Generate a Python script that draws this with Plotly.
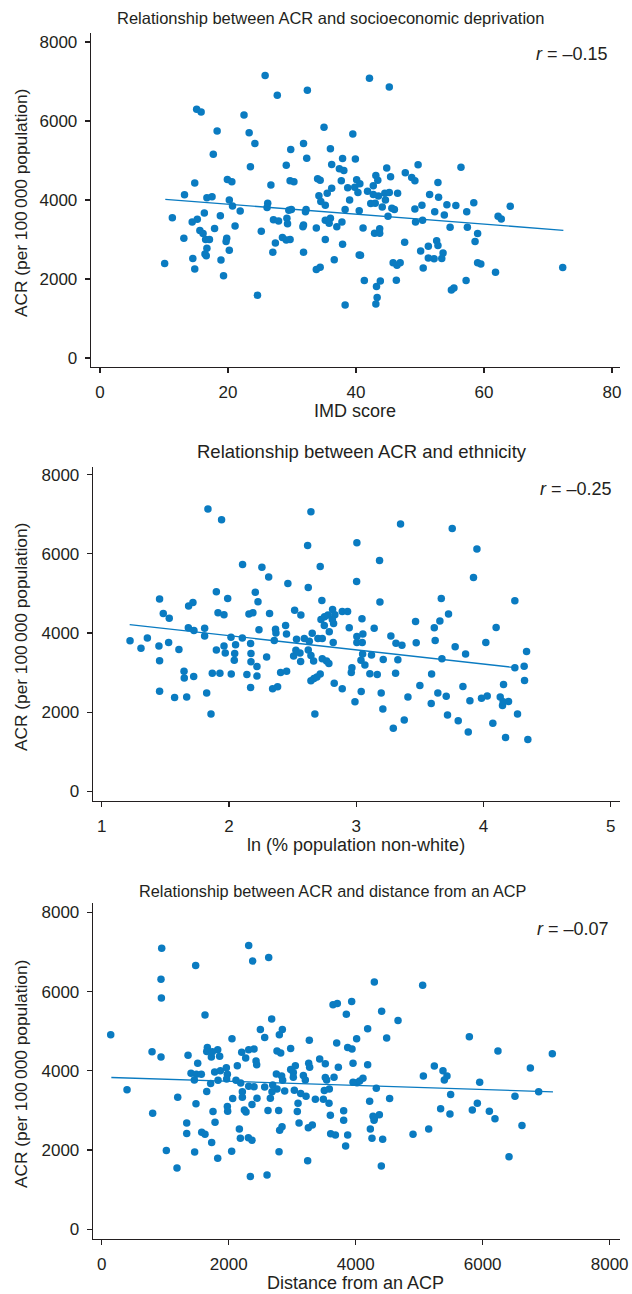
import plotly.graph_objects as go

# ---------------- Panel 1: IMD score vs ACR ----------------
imd_score = [
    25.8, 27.7, 32.4, 15.1, 15.8, 22.5, 18.3, 23.3, 24.2, 17.7,
    31.8, 29.8, 35.0, 39.5, 32.3, 36.0, 37.9, 39.9, 36.2, 37.4,
    38.1, 29.1, 23.5, 14.8, 19.9, 20.6, 26.7, 29.7, 30.3, 34.0,
    34.4, 37.7, 40.1, 38.7, 39.8, 40.3, 36.2, 35.5, 34.2, 13.2,
    16.7, 17.5, 20.2, 20.7, 21.9, 26.2, 26.1, 29.5, 29.9, 32.2,
    32.1, 34.5, 35.2, 39.0, 38.3, 40.5, 11.3, 16.3, 18.8, 15.2,
    14.4, 27.1, 27.9, 29.2, 29.3, 31.8, 31.7, 35.2, 36.0, 35.8,
    37.8, 37.0, 21.1, 17.9, 15.6, 16.1, 16.5, 17.1, 13.1, 19.8,
    19.7, 25.2, 33.8, 28.5, 29.1, 29.7, 27.4, 35.2, 37.9, 16.7,
    16.4, 16.6, 20.2, 27.0, 31.8, 40.5, 14.5, 18.9, 36.6, 10.1,
    14.8, 19.3, 33.8, 34.4, 24.6, 38.3,
    42.1, 45.2, 40.6, 44.8, 45.4, 43.1, 43.4, 42.7, 41.8, 42.7,
    43.5, 44.5, 45.2, 46.5, 44.6, 42.3, 43.0, 44.1, 45.6, 46.0,
    45.0, 47.7, 48.7, 49.2, 49.7, 52.8, 51.5, 52.9, 50.3, 49.2,
    49.3, 50.4, 52.3, 53.8, 54.2, 55.6, 56.4, 58.4, 57.3, 54.7,
    57.4, 59.0, 58.6, 62.2, 62.7, 64.1, 41.1, 42.9, 43.7, 43.7,
    47.6, 40.7, 50.1, 51.3, 52.6, 52.8, 53.6, 53.4, 52.2, 51.3,
    50.5, 45.8, 46.4, 46.9, 59.0, 59.5, 61.8, 72.3, 41.3, 43.8,
    43.2, 43.3, 43.1, 46.3, 54.9, 55.3, 57.2,
]
acr_imd = [
    7150, 6650, 6780, 6300, 6230, 6150, 5750, 5700, 5430, 5160,
    5430, 5280, 5840, 5670, 5060, 5300, 5050, 5040, 4900, 4790,
    4750, 4880, 4840, 4430, 4520, 4460, 4380, 4490, 4460, 4540,
    4500, 4490, 4510, 4310, 4320, 4190, 4300, 4170, 4110, 4130,
    4060, 4080, 4000, 3850, 3720, 3920, 3810, 3740, 3760, 3760,
    3700, 3960, 3870, 4000, 3760, 3730, 3550, 3670, 3600, 3510,
    3440, 3500, 3470, 3540, 3400, 3370, 3320, 3490, 3540, 3410,
    3440, 3320, 3340, 3280, 3230, 3150, 3000, 3000, 3030, 3030,
    2950, 3210, 3290, 3050, 2990, 3000, 2910, 3000, 2880, 2780,
    2630, 2590, 2730, 2680, 2680, 2610, 2520, 2480, 2490, 2390,
    2250, 2080, 2240, 2300, 1590, 1340,
    7080, 6860, 4410, 4810, 4590, 4620, 4500, 4360, 4220, 4140,
    4100, 4170, 4190, 4170, 4000, 3910, 3920, 3820, 3790, 3760,
    3590, 4690, 4570, 4490, 4890, 4440, 4140, 4070, 3870, 3770,
    3440, 3490, 3700, 3620, 3880, 3860, 4830, 3930, 3700, 3310,
    3310, 3150, 2950, 3590, 3520, 3840, 3290, 3160, 3160, 3270,
    2930, 2600, 2710, 2830, 2970, 2850, 2660, 2520, 2510, 2530,
    2280, 2410, 2350, 2410, 2410, 2380, 2170, 2290, 1960, 1950,
    1810, 1530, 1370, 1970, 1720, 1770, 1960,
]
trend_imd_x = [10.2, 72.4]
trend_imd_y = [4016, 3232]

# ---------------- Panel 2: ln(% non-white) vs ACR ----------------
ln_nonwhite = [
    1.835, 1.942, 2.644, 2.618, 3.005, 2.107, 2.259, 2.312, 2.717, 2.463,
    2.623, 3.003, 1.901, 2.207, 1.990, 2.228, 2.730, 1.455, 1.683, 1.717,
    1.484, 1.531, 1.914, 1.961, 2.157, 2.188, 2.319, 2.516, 2.565, 2.723,
    2.751, 2.778, 2.814, 2.832, 2.890, 2.932, 2.822, 2.812, 2.749, 2.945,
    2.788, 1.681, 1.725, 1.809, 1.809, 2.016, 2.105, 2.236, 2.366, 2.369,
    2.445, 2.452, 2.356, 2.531, 2.592, 2.631, 2.654, 2.699, 2.733, 2.819,
    3.005, 3.005, 1.223, 1.309, 1.359, 1.450, 1.526, 1.607, 1.455, 1.901,
    1.961, 1.971, 2.052, 2.045, 2.042, 2.170, 2.173, 2.173, 2.220, 2.296,
    2.508, 2.526, 2.558, 2.563, 2.623, 2.644, 2.665, 2.733, 2.767, 2.785,
    1.647, 1.649, 1.723, 1.869, 1.929, 2.018, 2.141, 2.220, 2.170, 2.343,
    2.382, 2.406, 2.453, 2.644, 2.668, 2.691, 2.717, 2.827, 2.890, 2.966,
    2.961, 2.990, 1.455, 1.573, 1.668, 1.825, 1.859, 2.675,
    3.348, 3.754, 3.948, 3.183, 3.921, 3.186, 3.668, 4.246, 3.045, 3.725,
    3.657, 3.466, 3.613, 3.141, 4.099, 3.052, 3.272, 3.312, 3.359, 3.471,
    3.620, 4.018, 3.777, 3.859, 3.050, 3.120, 3.212, 3.327, 3.673, 4.338,
    4.319, 4.246, 3.068, 3.107, 3.165, 3.309, 3.592, 4.322, 3.500, 3.838,
    4.157, 3.039, 3.196, 3.641, 3.406, 3.707, 3.893, 3.984, 4.029, 4.131,
    4.196, 4.149, 4.154, 3.589, 3.209, 3.717, 4.267, 3.377, 3.291, 3.801,
    3.880, 4.073, 4.173, 4.348, 3.047, 3.037,
]
acr_eth = [
    7130, 6860, 7060, 6210, 6280, 5730, 5660, 5410, 5680, 5250,
    5150, 5300, 5040, 5030, 4870, 4790, 4820, 4860, 4680, 4770,
    4490, 4370, 4510, 4460, 4480, 4510, 4490, 4570, 4450, 4340,
    4410, 4450, 4590, 4460, 4540, 4540, 4240, 4340, 4190, 4130,
    4030, 4130, 4060, 4120, 3920, 3890, 3870, 4080, 4090, 4000,
    4190, 3970, 3810, 3840, 3860, 3790, 3990, 3860, 3860, 3760,
    3910, 3760, 3800, 3610, 3870, 3670, 3760, 3580, 3300, 3570,
    3670, 3490, 3700, 3480, 3310, 3730, 3480, 3270, 3150, 3390,
    3420, 3560, 3490, 3280, 3570, 3430, 3290, 3350, 3290, 3230,
    3030, 2860, 2900, 2980, 2980, 2960, 2950, 2910, 2620, 2590,
    2640, 3000, 3030, 2790, 2850, 2890, 2960, 2730, 2590, 3120,
    3000, 2260, 2530, 2370, 2380, 2480, 1950, 1950,
    6750, 6640, 6120, 5830, 5400, 4780, 4870, 4810, 4360, 4480,
    4300, 4290, 4130, 4120, 4140, 3970, 3920, 3740, 3690, 3750,
    3810, 3760, 3650, 3470, 3470, 3440, 3330, 3320, 3350, 3530,
    3160, 3120, 3190, 2970, 2950, 2980, 2960, 2800, 2670, 2650,
    2700, 2520, 2480, 2480, 2380, 2400, 2290, 2350, 2410, 2380,
    2270, 2170, 2260, 2220, 2080, 1930, 1950, 1800, 1590, 1780,
    1500, 1720, 1360, 1310, 3760, 3310,
]
trend_eth_x = [1.22, 4.25]
trend_eth_y = [4210, 3124]

# ---------------- Panel 3: distance from an ACP vs ACR ----------------
distance_acp = [
    945, 934, 940, 1480, 2315, 2378, 2630, 142, 1627, 2677,
    2499, 2845, 2798, 2567, 2052, 3270, 793, 934, 1360, 1512,
    1664, 1654, 1727, 1827, 1858, 1743, 2205, 2268, 2315, 2399,
    2431, 2441, 2136, 2761, 2819, 2976, 3433, 3522, 3260, 3275,
    3050, 2976, 3018, 3018, 3176, 3207, 2834, 2850, 2751, 3701,
    3727, 3659, 3522, 3543, 3643, 3711, 3853, 3937, 3874, 3942,
    3958, 4015, 4020, 3958, 1407, 1459, 1491, 1569, 1779, 1869,
    1963, 1979, 1968, 1832, 1716, 2115, 2189, 2315, 2399, 2567,
    2693, 2761, 2882, 2682, 2215, 2215, 2656, 2446, 2367, 3034,
    3134, 3218, 3365, 3491, 3580, 3506, 3585, 3092, 399, 1197,
    1654, 1485, 803, 1339, 1339, 1575, 1627, 1785, 1753, 1979,
    1984, 2063, 2247, 2273, 2619, 2787, 3081, 3108, 3254, 3317,
    3601, 3811, 3811, 3606, 3680, 3874, 3842, 2168, 2184, 2310,
    2367, 2803, 2840, 1732, 1464, 1018, 1186, 1827, 2047, 2793,
    3244, 2341, 2604,
    4294, 5055, 4409, 4667, 4189, 4488, 5790, 6241, 7097, 4189,
    5066, 5239, 5375, 5438, 5396, 6751, 5953, 4063, 4115, 4325,
    4535, 4220, 5496, 6509, 6882, 5916, 5338, 5485, 5837, 6105,
    6194, 4273, 4373, 4289, 4294, 4231, 4257, 4425, 4903, 5150,
    6619, 6415, 4404,
]
acr_dist = [
    7090, 6310, 5840, 6660, 7160, 6770, 6860, 4910, 5410, 5310,
    5040, 5040, 4910, 4840, 4810, 4770, 4480, 4350, 4390, 4190,
    4590, 4490, 4350, 4530, 4370, 4480, 4470, 4320, 4530, 4550,
    4250, 4150, 4130, 4500, 4450, 4560, 4300, 4180, 4190, 4090,
    4130, 4030, 3960, 3840, 3880, 3770, 3870, 3760, 3920, 4700,
    4090, 3840, 3830, 3770, 5670, 5700, 5430, 5750, 4590, 4550,
    4190, 4810, 3700, 3710, 3940, 3770, 3910, 3910, 3970, 4000,
    4080, 3910, 3790, 3760, 3680, 3760, 3690, 3610, 3600, 3590,
    3640, 3540, 3490, 3470, 3470, 3330, 3310, 3310, 3150, 3510,
    3430, 3360, 3280, 3280, 3180, 3500, 3540, 3180, 3520, 3330,
    3480, 3170, 2930, 2680, 2420, 2450, 2400, 2700, 2970, 3100,
    2980, 3300, 3010, 2960, 3000, 3000, 2970, 2680, 2560, 2630,
    2880, 2990, 2750, 2410, 2380, 2380, 2100, 2530, 2300, 2310,
    2250, 2500, 2590, 2190, 1950, 1990, 1550, 1790, 1970, 1960,
    1730, 1330, 1370,
    6240, 6160, 5500, 5270, 5060, 4830, 4860, 4500, 4430, 4150,
    3870, 4120, 4000, 3870, 3770, 4070, 3710, 3740, 3810, 3560,
    3300, 3230, 3400, 3360, 3470, 3180, 3040, 2910, 3010, 2980,
    2790, 2850, 2890, 2750, 2800, 2530, 2300, 2270, 2400, 2530,
    2620, 1830, 1600,
]
trend_dist_x = [152, 7107]
trend_dist_y = [3831, 3469]

assert len(imd_score) == len(acr_imd)
assert len(ln_nonwhite) == len(acr_eth)
assert len(distance_acp) == len(acr_dist)

panel_titles = [
    "Relationship between ACR and socioeconomic deprivation",
    "Relationship between ACR and ethnicity",
    "Relationship between ACR and distance from an ACP",
]
x_titles = ["IMD score", "ln (% population non-white)", "Distance from an ACP"]
r_labels = ["\u20130.15", "\u20130.25", "\u20130.07"]
y_title = "ACR (per 100\u2009000 population)"
y_ticks = [0, 2000, 4000, 6000, 8000]
x_ticks = [[0, 20, 40, 60, 80], [1, 2, 3, 4, 5], [0, 2000, 4000, 6000, 8000]]

# ---------------- layout geometry (pixels) ----------------
W, H = 632, 1294
BLUE = "#0A7BC1"
INK = "#231F20"
FONT = "Liberation Sans, Arial, Helvetica, sans-serif"

def py(p):
    return 1 - p / H

def px(p):
    return p / W

panels = [
    dict(x=imd_score, y=acr_imd, tx=trend_imd_x, ty=trend_imd_y,
         xdom=(91, 620), ydom=(33, 367), xr=[-1.41, 81.25], yr=[-228, 8228],
         title_c=(330, 18), title_fs=16.5, r_pos=(610, 54)),
    dict(x=ln_nonwhite, y=acr_eth, tx=trend_eth_x, ty=trend_eth_y,
         xdom=(93, 620), ydom=(467, 801), xr=[0.932, 5.072], yr=[-245, 8191],
         title_c=(362, 452), title_fs=18.5, r_pos=(614, 489)),
    dict(x=distance_acp, y=acr_dist, tx=trend_dist_x, ty=trend_dist_y,
         xdom=(93, 620), ydom=(903, 1239), xr=[-137, 8163], yr=[-245, 8235],
         title_c=(332, 891), title_fs=16.3, r_pos=(611, 929)),
]

fig = go.Figure()
annotations = []
for i, p in enumerate(panels):
    sfx = "" if i == 0 else str(i + 1)
    xa, ya = "x" + sfx, "y" + sfx
    fig.add_trace(go.Scatter(
        x=p["x"], y=p["y"], mode="markers", xaxis=xa, yaxis=ya,
        marker=dict(color=BLUE, size=7.5, line=dict(width=0)),
        showlegend=False, hoverinfo="skip"))
    fig.add_trace(go.Scatter(
        x=p["tx"], y=p["ty"], mode="lines", xaxis=xa, yaxis=ya,
        line=dict(color=BLUE, width=1.3), showlegend=False, hoverinfo="skip"))
    axcommon = dict(showline=True, linecolor=INK, linewidth=1.3, ticks="outside",
                    ticklen=5, tickwidth=1.2, tickcolor=INK, showgrid=False,
                    zeroline=False, automargin=False,
                    tickfont=dict(family=FONT, size=17, color=INK))
    fig.update_layout(**{
        "xaxis" + sfx: dict(axcommon, domain=[px(p["xdom"][0]), px(p["xdom"][1])],
                            range=p["xr"], tickvals=x_ticks[i], tickformat="d",
                            anchor=ya, ticklabelstandoff=4),
        "yaxis" + sfx: dict(axcommon, domain=[py(p["ydom"][1]), py(p["ydom"][0])],
                            range=p["yr"], tickvals=y_ticks, tickformat="d",
                            anchor=xa, ticklabelstandoff=4),
    })
    annotations.append(dict(text=panel_titles[i], x=px(p["title_c"][0]), y=py(p["title_c"][1]),
                            xref="paper", yref="paper", xanchor="center", yanchor="middle",
                            showarrow=False, font=dict(family=FONT, size=p["title_fs"], color=INK)))
    annotations.append(dict(text="<i>r</i> = " + r_labels[i], x=px(p["r_pos"][0]), y=py(p["r_pos"][1]),
                            xref="paper", yref="paper", xanchor="right", yanchor="middle",
                            showarrow=False, font=dict(family=FONT, size=18, color=INK)))
    xc = (p["xdom"][0] + p["xdom"][1]) / 2
    annotations.append(dict(text=x_titles[i], x=px(xc - 1), y=py(p["ydom"][1] + 44),
                            xref="paper", yref="paper", xanchor="center", yanchor="middle",
                            showarrow=False, font=dict(family=FONT, size=18, color=INK)))
    yc = (p["ydom"][0] + p["ydom"][1]) / 2
    annotations.append(dict(text=y_title, x=px(21), y=py(yc + 3), textangle=-90,
                            xref="paper", yref="paper", xanchor="center", yanchor="middle",
                            showarrow=False, font=dict(family=FONT, size=17.3, color=INK)))

fig.update_layout(width=W, height=H, margin=dict(l=0, r=0, t=0, b=0, autoexpand=False),
                  paper_bgcolor="white", plot_bgcolor="white",
                  annotations=annotations)
fig.write_html("out.html", config={"displayModeBar": False, "staticPlot": True},
               post_script="document.body.style.margin='0';document.body.style.padding='0';"
                           "document.documentElement.style.overflow='hidden';")
